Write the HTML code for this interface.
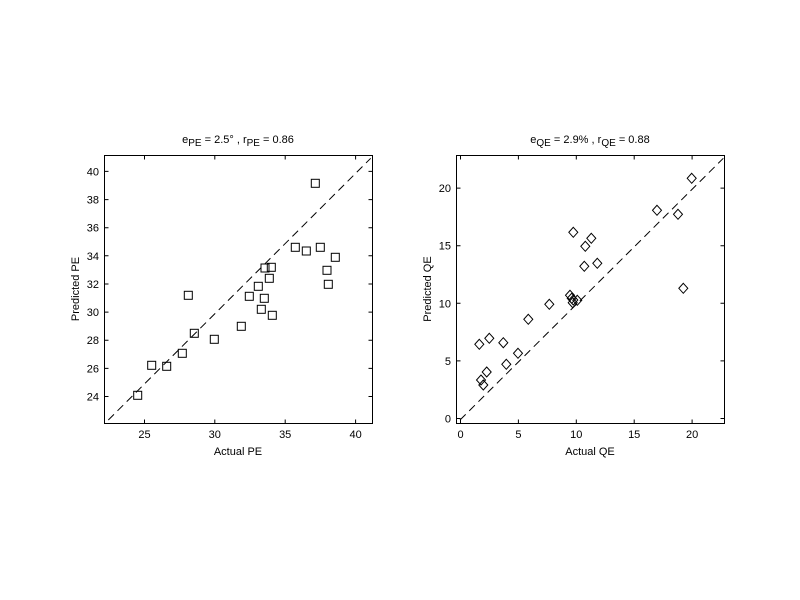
<!DOCTYPE html>
<html><head><meta charset="utf-8"><style>
html,body{margin:0;padding:0;background:#fff;}
svg{display:block;}
text{font-family:"Liberation Sans",sans-serif;font-size:11px;fill:#000;}
</style></head><body>
<svg width="800" height="600" xmlns="http://www.w3.org/2000/svg">
<rect width="800" height="600" fill="#fff"/>
<!-- LEFT -->
<g stroke="#000" fill="none" stroke-width="1">
<rect x="104.5" y="155.5" width="268" height="268"/>
<line x1="108.3" y1="420" x2="370.7" y2="158.3" stroke-dasharray="8,5"/>
<!-- x ticks -->
<path d="M144.5 423.5v-4M144.5 155.5v4M214.8 423.5v-4M214.8 155.5v4M285.2 423.5v-4M285.2 155.5v4M355.6 423.5v-4M355.6 155.5v4"/>
<!-- y ticks -->
<path d="M104.5 396.5h4M372.5 396.5h-4M104.5 368.4h4M372.5 368.4h-4M104.5 340.2h4M372.5 340.2h-4M104.5 312.1h4M372.5 312.1h-4M104.5 284h4M372.5 284h-4M104.5 255.8h4M372.5 255.8h-4M104.5 227.7h4M372.5 227.7h-4M104.5 199.6h4M372.5 199.6h-4M104.5 171.4h4M372.5 171.4h-4"/>
</g>
<g stroke="#000" fill="none" stroke-width="1">
<rect x="133.7" y="391.3" width="8" height="8"/>
<rect x="147.7" y="361.3" width="8" height="8"/>
<rect x="162.7" y="362.3" width="8" height="8"/>
<rect x="178.3" y="349.3" width="8" height="8"/>
<rect x="190.3" y="329.3" width="8" height="8"/>
<rect x="184.3" y="291.3" width="8" height="8"/>
<rect x="210.3" y="335.3" width="8" height="8"/>
<rect x="237.3" y="322.3" width="8" height="8"/>
<rect x="245.3" y="292.3" width="8" height="8"/>
<rect x="254.3" y="282.3" width="8" height="8"/>
<rect x="257.3" y="305.3" width="8" height="8"/>
<rect x="260.3" y="294.3" width="8" height="8"/>
<rect x="261" y="264" width="8" height="8"/>
<rect x="265.3" y="274.3" width="8" height="8"/>
<rect x="267.3" y="263.3" width="8" height="8"/>
<rect x="268.3" y="311.3" width="8" height="8"/>
<rect x="291.3" y="243.3" width="8" height="8"/>
<rect x="302.3" y="247" width="8" height="8"/>
<rect x="311.3" y="179.3" width="8" height="8"/>
<rect x="316.3" y="243.3" width="8" height="8"/>
<rect x="323" y="266.3" width="8" height="8"/>
<rect x="324.3" y="280.3" width="8" height="8"/>
<rect x="331.3" y="253.3" width="8" height="8"/>
</g>
<g text-anchor="middle">
<text x="144.5" y="438">25</text><text x="214.8" y="438">30</text><text x="285.2" y="438">35</text><text x="355.6" y="438">40</text>
<text x="238" y="455">Actual PE</text>
</g>
<g text-anchor="end">
<text x="99" y="400.5">24</text><text x="99" y="372.4">26</text><text x="99" y="344.2">28</text><text x="99" y="316.1">30</text><text x="99" y="288">32</text><text x="99" y="259.8">34</text><text x="99" y="231.7">36</text><text x="99" y="203.6">38</text><text x="99" y="175.4">40</text>
</g>
<text x="79" y="289" text-anchor="middle" transform="rotate(-90 79 289)">Predicted PE</text>
<text x="238" y="143" text-anchor="middle">e<tspan dy="3" font-size="10">PE</tspan><tspan dy="-3"> = 2.5° , r</tspan><tspan dy="3" font-size="10">PE</tspan><tspan dy="-3"> = 0.86</tspan></text>

<!-- RIGHT -->
<g stroke="#000" fill="none" stroke-width="1">
<rect x="456.5" y="155.5" width="268" height="268"/>
<line x1="460" y1="420" x2="723.3" y2="158.3" stroke-dasharray="8,5"/>
<path d="M460.5 423.5v-4M460.5 155.5v4M518.4 423.5v-4M518.4 155.5v4M576.3 423.5v-4M576.3 155.5v4M634.2 423.5v-4M634.2 155.5v4M692.1 423.5v-4M692.1 155.5v4"/>
<path d="M456.5 418.5h4M724.5 418.5h-4M456.5 360.9h4M724.5 360.9h-4M456.5 303.3h4M724.5 303.3h-4M456.5 245.7h4M724.5 245.7h-4M456.5 188.1h4M724.5 188.1h-4"/>
</g>
<g stroke="#000" fill="none" stroke-width="1">
<path d="M479.3 339.3l4.5 5-4.5 5-4.5-5z"/>
<path d="M489.3 333.3l4.5 5-4.5 5-4.5-5z"/>
<path d="M503.3 337.7l4.5 5-4.5 5-4.5-5z"/>
<path d="M486.7 367l4.5 5-4.5 5-4.5-5z"/>
<path d="M481 375l4.5 5-4.5 5-4.5-5z"/>
<path d="M483.3 380l4.5 5-4.5 5-4.5-5z"/>
<path d="M506.3 359.3l4.5 5-4.5 5-4.5-5z"/>
<path d="M518 348.3l4.5 5-4.5 5-4.5-5z"/>
<path d="M528.3 314.3l4.5 5-4.5 5-4.5-5z"/>
<path d="M549.3 299.3l4.5 5-4.5 5-4.5-5z"/>
<path d="M570 290.3l4.5 5-4.5 5-4.5-5z"/>
<path d="M571.7 293.3l4.5 5-4.5 5-4.5-5z"/>
<path d="M572.7 297.7l4.5 5-4.5 5-4.5-5z"/>
<path d="M573.3 295l4.5 5-4.5 5-4.5-5z"/>
<path d="M577.3 295.3l4.5 5-4.5 5-4.5-5z"/>
<path d="M573.3 227.3l4.5 5-4.5 5-4.5-5z"/>
<path d="M584.3 261.3l4.5 5-4.5 5-4.5-5z"/>
<path d="M585.3 241.3l4.5 5-4.5 5-4.5-5z"/>
<path d="M591.3 233.3l4.5 5-4.5 5-4.5-5z"/>
<path d="M597.3 258.3l4.5 5-4.5 5-4.5-5z"/>
<path d="M657 205.3l4.5 5-4.5 5-4.5-5z"/>
<path d="M678 209.3l4.5 5-4.5 5-4.5-5z"/>
<path d="M683.3 283.3l4.5 5-4.5 5-4.5-5z"/>
<path d="M691.7 173.3l4.5 5-4.5 5-4.5-5z"/>
</g>
<g text-anchor="middle">
<text x="460.5" y="438">0</text><text x="518.4" y="438">5</text><text x="576.3" y="438">10</text><text x="634.2" y="438">15</text><text x="692.1" y="438">20</text>
<text x="590" y="455">Actual QE</text>
</g>
<g text-anchor="end">
<text x="451" y="422.5">0</text><text x="451" y="364.9">5</text><text x="451" y="307.3">10</text><text x="451" y="249.7">15</text><text x="451" y="192.1">20</text>
</g>
<text x="431" y="289" text-anchor="middle" transform="rotate(-90 431 289)">Predicted QE</text>
<text x="590" y="143" text-anchor="middle">e<tspan dy="3" font-size="10">QE</tspan><tspan dy="-3"> = 2.9% , r</tspan><tspan dy="3" font-size="10">QE</tspan><tspan dy="-3"> = 0.88</tspan></text>
</svg>
</body></html>
